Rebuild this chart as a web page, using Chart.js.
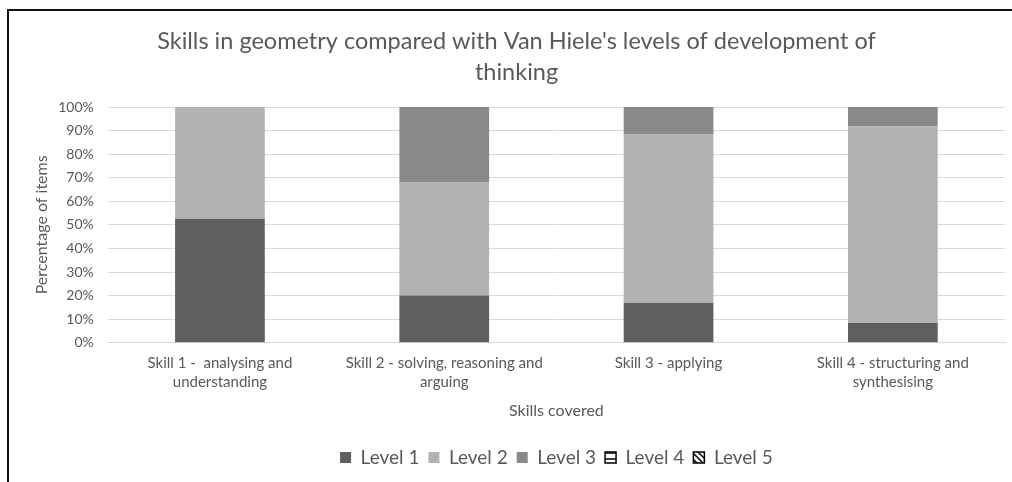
<!DOCTYPE html>
<html>
<head>
<meta charset="utf-8">
<script src="https://cdn.jsdelivr.net/npm/chart.js@4/dist/chart.umd.min.js"></script>
<style>
    html, body { margin: 0; padding: 0; background: #fff; }
    #wrap { position: relative; width: 1012px; height: 482px; overflow: hidden; }
    #frame {
        position: absolute; left: 7px; top: 9px; width: 1100px; height: 600px;
        border-top: 2px solid #111; border-left: 2px solid #111; pointer-events: none;
    }
    canvas { position: absolute; left: 0; top: 0; }
</style>
</head>
<body>
<div id="wrap">
    <canvas id="chart" width="1012" height="482"></canvas>
    <div id="frame"></div>
</div>
<script>
// 数据 - 每项技能各级别所占百分比
const skills = [
    ['Skill 1 -  analysing and', 'understanding'],
    ['Skill 2 - solving, reasoning and', 'arguing'],
    ['Skill 3 - applying'],
    ['Skill 4 - structuring and', 'synthesising']
];
const level1 = [52.6, 20, 17, 8.4];
const level2 = [47.4, 48, 71.4, 83.4];
const level3 = [0, 32, 11.6, 8.2];
const level4 = [0, 0, 0, 0];
const level5 = [0, 0, 0, 0];
const yTicks = [0, 10, 20, 30, 40, 50, 60, 70, 80, 90, 100];

const textColor = '#595959';
const font = 'Lato, "Open Sans", sans-serif';

function makePattern(kind) {
    const c = document.createElement('canvas');
    c.width = 6; c.height = 6;
    const g = c.getContext('2d');
    g.fillStyle = '#fff';
    g.fillRect(0, 0, 6, 6);
    g.strokeStyle = '#000';
    g.lineWidth = 1.5;
    g.beginPath();
    if (kind === 'h') {
        g.moveTo(0, 3); g.lineTo(6, 3);
    } else {
        g.moveTo(0, 0); g.lineTo(6, 6);
        g.moveTo(-3, 3); g.lineTo(3, 9);
        g.moveTo(3, -3); g.lineTo(9, 3);
    }
    g.stroke();
    return document.getElementById('chart').getContext('2d').createPattern(c, 'repeat');
}

const ctx = document.getElementById('chart').getContext('2d');
new Chart(ctx, {
    type: 'bar',
    data: {
        labels: skills,
        datasets: [
            { label: 'Level 1', data: level1, backgroundColor: '#5f5f5f' },
            { label: 'Level 2', data: level2, backgroundColor: '#b2b2b2' },
            { label: 'Level 3', data: level3, backgroundColor: '#898989' },
            { label: 'Level 4', data: level4, backgroundColor: makePattern('h'), borderColor: '#000', borderWidth: 0 },
            { label: 'Level 5', data: level5, backgroundColor: makePattern('d'), borderColor: '#000', borderWidth: 0 }
        ]
    },
    options: {
        responsive: false,
        animation: false,
        datasets: { bar: { barPercentage: 0.4, categoryPercentage: 1.0 } },
        layout: { padding: { top: 18, left: 28, right: 7, bottom: 5 } },
        plugins: {
            title: {
                display: true,
                text: ["Skills in geometry compared with Van Hiele's levels of development of", 'thinking'],
                color: textColor,
                font: { family: font, size: 23.5, weight: 'normal', lineHeight: 1.32 },
                padding: { top: 8, bottom: 19 }
            },
            legend: {
                position: 'bottom',
                fullSize: false,
                labels: {
                    color: textColor,
                    font: { family: font, size: 19 },
                    boxWidth: 11,
                    boxHeight: 11,
                    padding: 9,
                    generateLabels(chart) {
                        return chart.data.datasets.map((ds, i) => ({
                            text: ds.label,
                            fillStyle: ds.backgroundColor,
                            strokeStyle: i >= 3 ? '#000' : ds.backgroundColor,
                            lineWidth: i >= 3 ? 1.5 : 0,
                            datasetIndex: i,
                            fontColor: textColor
                        }));
                    }
                }
            },
            tooltip: { enabled: false }
        },
        scales: {
            x: {
                stacked: true,
                grid: { display: false, drawTicks: false },
                border: { color: '#d9d9d9' },
                ticks: { color: textColor, font: { family: font, size: 15, lineHeight: 1.27 }, maxRotation: 0, padding: 11 },
                title: { display: true, text: 'Skills covered', color: textColor, font: { family: font, size: 16 }, padding: { top: -2, bottom: 19 } }
            },
            y: {
                stacked: true,
                min: 0,
                max: 100,
                afterBuildTicks(axis) { axis.ticks = yTicks.map(v => ({ value: v })); },
                grid: { color: '#d9d9d9', drawTicks: false },
                border: { display: false },
                ticks: { color: textColor, font: { family: font, size: 14 }, padding: 14, callback: v => v + '%' },
                title: { display: true, text: 'Percentage of items', color: textColor, font: { family: font, size: 16 }, padding: { top: 4, bottom: -7 } }
            }
        }
    }
});
</script>
</body>
</html>
